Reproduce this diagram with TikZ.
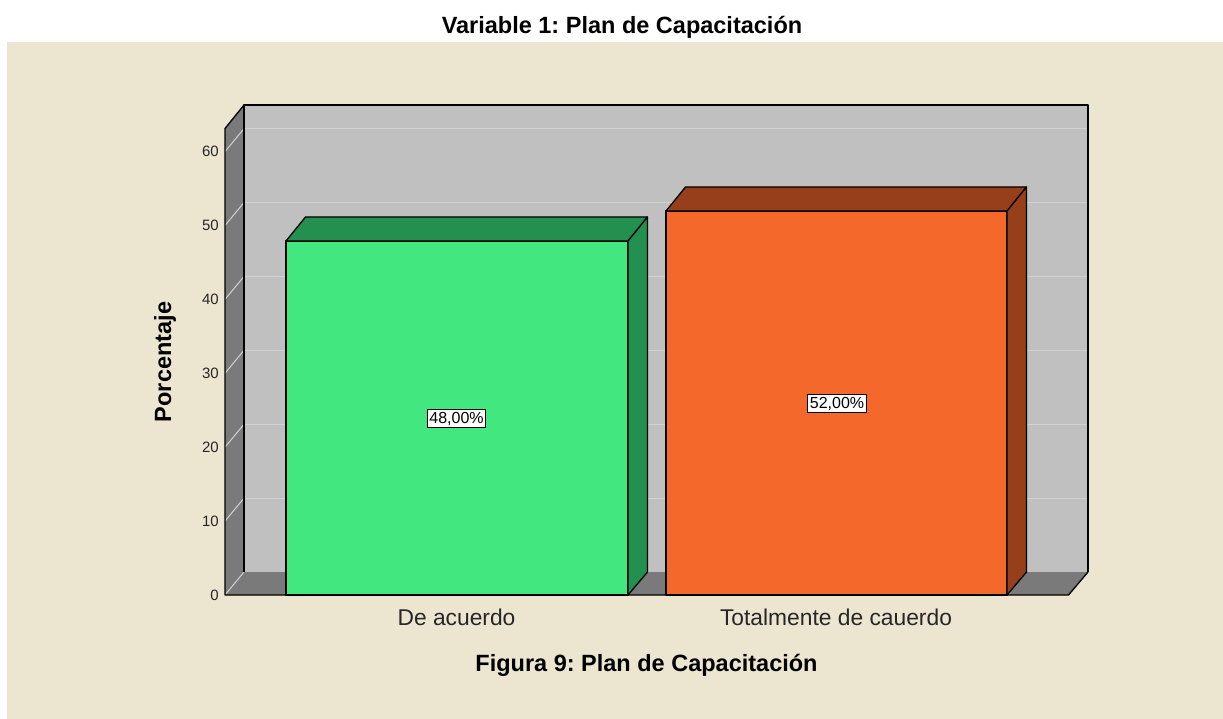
\documentclass[tikz,border=0pt]{standalone}
\usepackage{fontspec}
\setmainfont{Liberation Sans}
\frenchspacing
\definecolor{bg}{HTML}{ECE5D0}
\definecolor{wall}{HTML}{C0C0C0}
\definecolor{side}{HTML}{7A7A7A}
\definecolor{grid}{HTML}{D2D2D2}
\definecolor{gfront}{HTML}{42E77F}
\definecolor{gdark}{HTML}{249050}
\definecolor{ofront}{HTML}{F4682B}
\definecolor{odark}{HTML}{973F1B}
\begin{document}
\begin{tikzpicture}[x=1pt,y=-1pt,
  edge/.style={draw=black,line width=1.3pt,line join=round},
  gridline/.style={draw=grid,line width=1pt},
  ticklbl/.style={anchor=east,inner sep=0pt,font=\fontsize{15}{15}\selectfont,text=black!85},
  vlabel/.style={draw=black,fill=white,line width=0.9pt,inner sep=2pt,font=\fontsize{16}{16}\selectfont},
  catlbl/.style={inner sep=0pt,font=\fontsize{22.8}{24}\selectfont,text=black!85},
  titlelbl/.style={inner sep=0pt,font=\fontsize{23.5}{24}\bfseries}]
\useasboundingbox (0,0) rectangle (1223,719);
\fill[white] (0,0) rectangle (1223,719);
\fill[bg] (7,42) rectangle (1223,719);
% walls
\fill[wall] (244,105) rectangle (1088,572);
\fill[side] (225,128.5) -- (244,105) -- (244,572) -- (225,595) -- cycle;
\fill[side] (225,595) -- (1068.5,595) -- (1088,572) -- (244,572) -- cycle;
% gridlines
\foreach \v in {0,10,20,30,40,50,60}{
  \draw[gridline] (225,{595-\v*7.39}) -- (244,{572-\v*7.39});
}
\foreach \v in {10,20,30,40,50,60}{
  \draw[gridline] (244,{572-\v*7.39}) -- (1088,{572-\v*7.39});
}
% outlines
\draw[edge] (244,572) -- (244,105) -- (1088,105) -- (1088,572);
\draw[edge] (244,105) -- (225,128.5) -- (225,595) -- (1068.5,595) -- (1088,572);
% green bar
\filldraw[fill=gfront,edge] (286,241) rectangle (628,595);
\filldraw[fill=gdark,edge] (286,241) -- (305.5,217) -- (647.5,217) -- (628,241) -- cycle;
\filldraw[fill=gdark,edge] (628,241) -- (647.5,217) -- (647.5,572) -- (628,595) -- cycle;
% orange bar
\filldraw[fill=ofront,edge] (666,211) rectangle (1007,595);
\filldraw[fill=odark,edge] (666,211) -- (685.5,187) -- (1026.5,187) -- (1007,211) -- cycle;
\filldraw[fill=odark,edge] (1007,211) -- (1026.5,187) -- (1026.5,572) -- (1007,595) -- cycle;
% tick labels
\foreach \v in {0,10,20,30,40,50,60}{
  \node[ticklbl] (t\v) at (219,{595-\v*7.39}) {\v};
}
% value labels
\node[vlabel] (l1) at (456.5,418.5) {48,00\%};
\node[vlabel] (l2) at (837,403.5) {52,00\%};
% category labels
\node[catlbl] (c1) at (456.5,617) {De acuerdo};
\node[catlbl] (c2) at (836,617) {Totalmente de cauerdo};
% axis title
\node[titlelbl,rotate=90] (yt) at (165,362) {Porcentaje};
% titles
\node[titlelbl] (title) at (622,27) {Variable 1: Plan de Capacitación};
\node[titlelbl] (fig) at (646.5,665) {Figura 9: Plan de Capacitación};
\end{tikzpicture}
\end{document}
